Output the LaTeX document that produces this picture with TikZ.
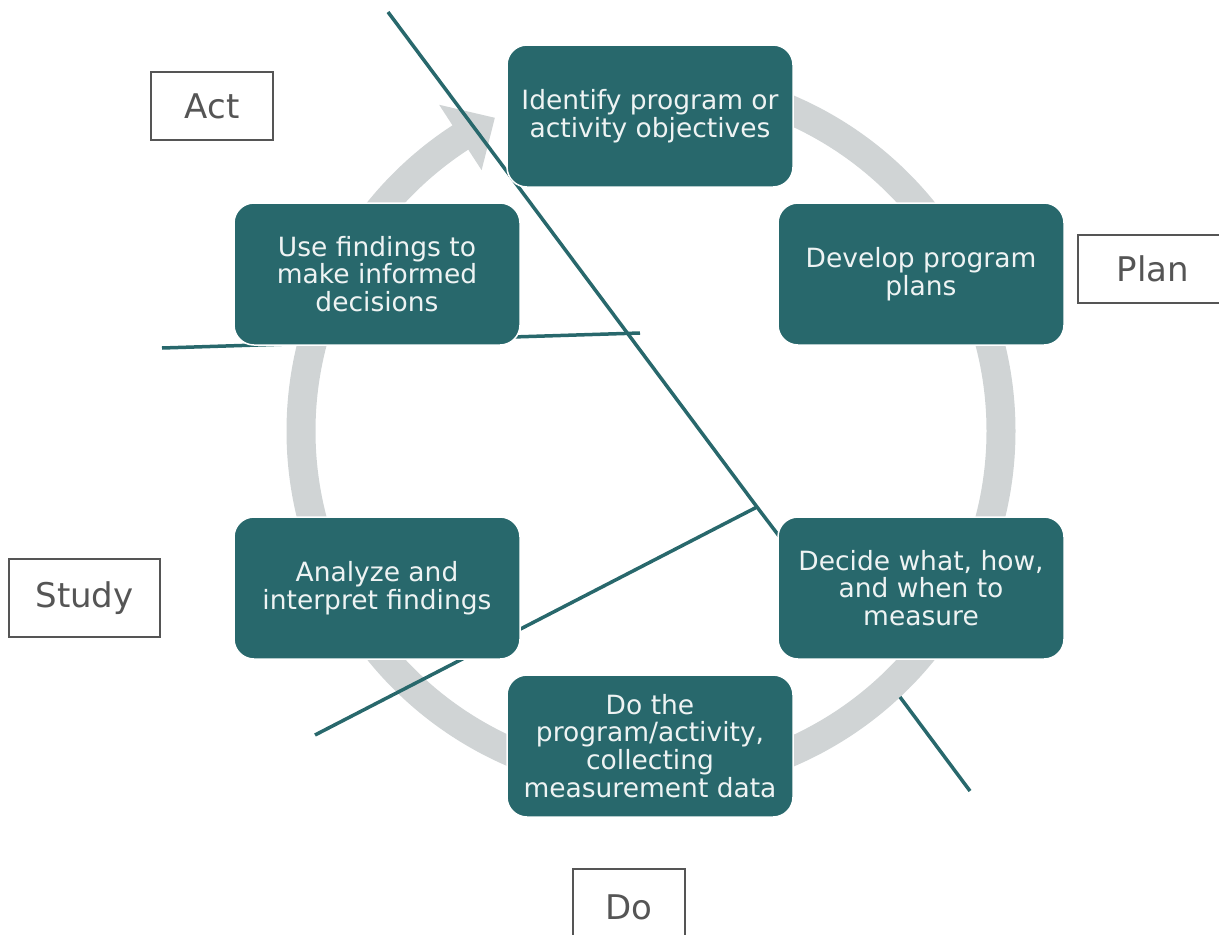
\documentclass[tikz,border=0pt]{standalone}
\usepackage{fontspec}
\setmainfont{DejaVu Sans}
\definecolor{boxteal}{RGB}{40,104,108}
\definecolor{ringgray}{RGB}{208,212,213}
\definecolor{labelgray}{RGB}{85,85,85}
\tikzset{
  stepbox/.style={rectangle, rounded corners=20pt, fill=boxteal, draw=white, line width=1.5pt,
    text=white!92!boxteal, minimum width=286pt, minimum height=142pt, align=center,
    font=\fontsize{26.5}{27.8}\selectfont},
  phase/.style={rectangle, draw=labelgray, line width=1.4pt, fill=white, text=labelgray,
    minimum height=68pt, font=\fontsize{34}{36}\selectfont},
  link/.style={boxteal, line width=3.5pt},
}
\begin{document}
\begin{tikzpicture}[x=1pt,y=-1pt]
\path[use as bounding box, clip] (0,0) rectangle (1219,935);

% The ring
\coordinate (C) at (651,431);
\draw[ringgray, line width=29pt] ([shift={(-90:350)}]C) arc[start angle=-90, end angle=238, radius=350];
\fill[ringgray] ([shift={(243.5:350)}]C) -- ([shift={(237:311)}]C) -- ([shift={(237:389)}]C) -- cycle;

% The lines
\coordinate (t1) at (388,12);
\coordinate (jn) at (757,507);
\coordinate (t2) at (779,536);
\coordinate (b1) at (900,697);
\coordinate (b2) at (970,791);
\coordinate (h1) at (162,348);
\coordinate (h2) at (640,333);
\coordinate (l1) at (315,735);
\draw[link] (t1) -- (jn) -- (t2);
\draw[link] (b1) -- (b2);
\draw[link] (h1) -- (h2);
\draw[link] (l1) -- (jn);

% The steps
\node[stepbox] (ident) at (650,116) {Identify program or\\activity objectives};
\node[stepbox] (devel) at (921,274) {Develop program\\plans};
\node[stepbox] (decide) at (921,588) {Decide what, how,\\and when to\\measure};
\node[stepbox] (doit) at (650,746) {Do the\\program/activity,\\collecting\\measurement data};
\node[stepbox] (analyze) at (377,588) {Analyze and\\interpret findings};
\node[stepbox] (usefind) at (377,274) {Use findings to\\make informed\\decisions};

% The phases
\node[phase, minimum width=122pt] (act) at (212,106) {Act};
\node[phase, minimum width=150pt] (plan) at (1153,269) {Plan};
\node[phase, minimum width=151pt, minimum height=78pt] (study) at (84.5,598) {Study};
\node[phase, minimum width=112pt, minimum height=76pt] (do) at (629,907) {Do};

\end{tikzpicture}
\end{document}
